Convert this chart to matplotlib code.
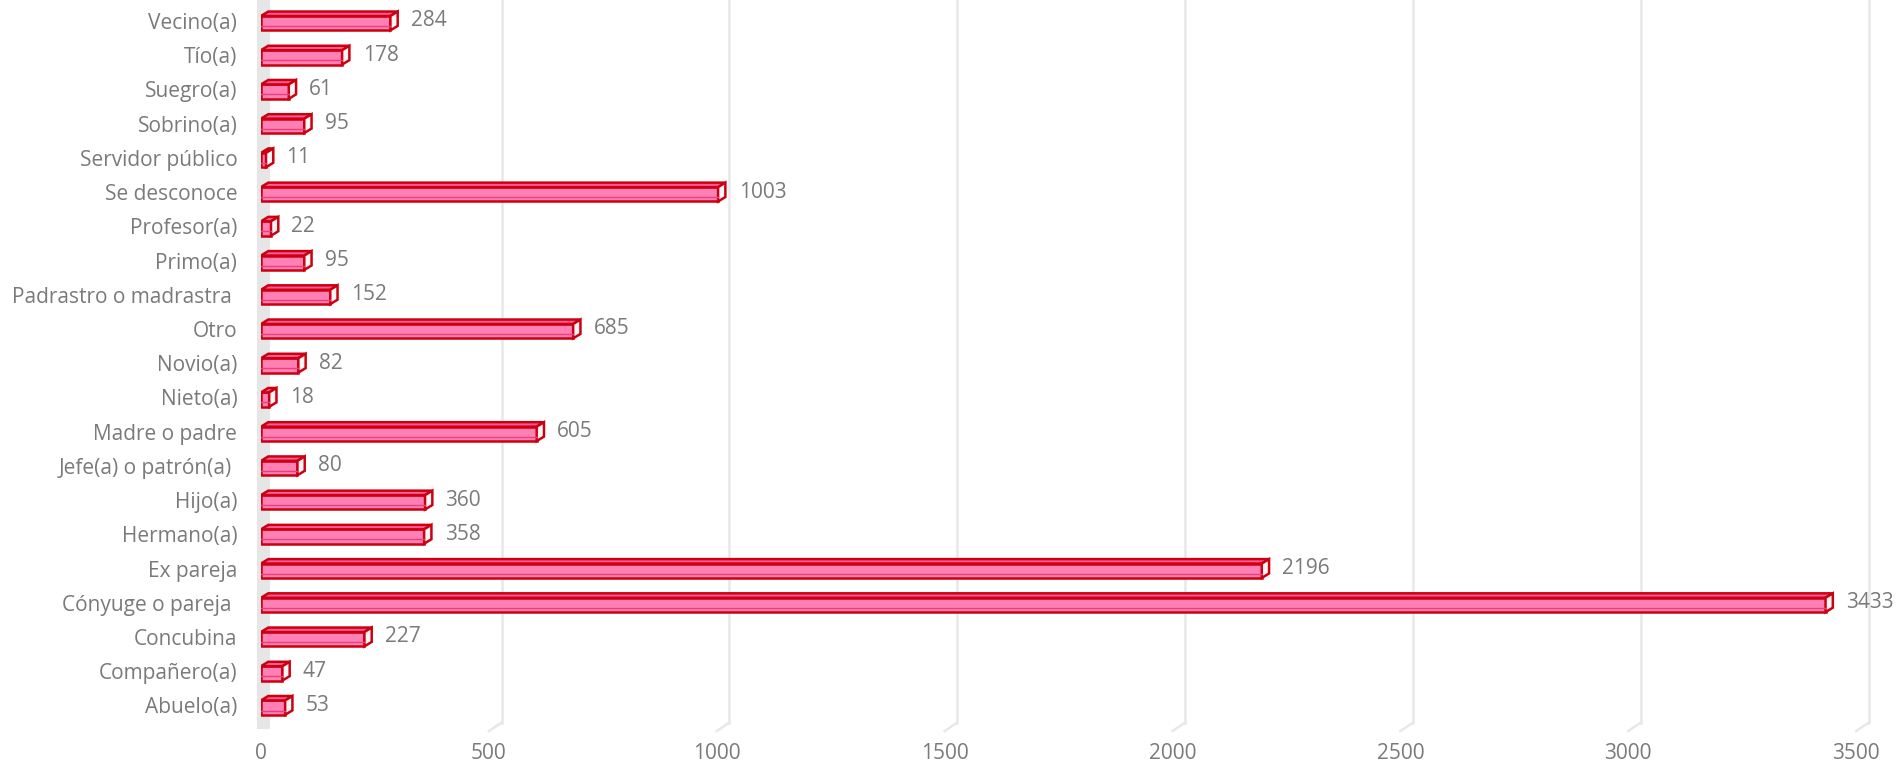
import matplotlib.pyplot as plt
from matplotlib.patches import Polygon, Rectangle

categories = ["Abuelo(a)", "Compañero(a)", "Concubina", "Cónyuge o pareja ", "Ex pareja",
              "Hermano(a)", "Hijo(a)", "Jefe(a) o patrón(a) ", "Madre o padre", "Nieto(a)",
              "Novio(a)", "Otro", "Padrastro o madrastra ", "Primo(a)", "Profesor(a)",
              "Se desconoce", "Servidor público", "Sobrino(a)", "Suegro(a)", "Tío(a)", "Vecino(a)"]
values = [53, 47, 227, 3433, 2196, 358, 360, 80, 605, 18, 82, 685, 152, 95, 22,
          1003, 11, 95, 61, 178, 284]
x_ticks = [0, 500, 1000, 1500, 2000, 2500, 3000, 3500]

plt.rcParams['font.family'] = ['Open Sans', 'DejaVu Sans']
GREY = "#7a7a7a"
FRONT = "#ff80b4"
TOP = "#ff5c99"
SIDE = "#f6f6f6"
EDGE = "#cc0010"

fig = plt.figure(figsize=(18.98, 7.67), dpi=100)
ax = fig.add_axes([0.1375, 0.058, 0.8404, 0.937])

h = 0.42   # front face height
dx = 16    # depth offset in data x
dy = 0.13  # depth offset in data y

for i, v in enumerate(values):
    y0 = i - h / 2 - dy / 2
    y1 = y0 + h
    ax.add_patch(Rectangle((0, y0), v, h, facecolor=FRONT, edgecolor=EDGE, lw=1.8, zorder=3))
    ax.add_patch(Polygon([(0, y1), (v, y1), (v + dx, y1 + dy), (dx, y1 + dy)], closed=True,
                         facecolor=TOP, edgecolor=EDGE, lw=1.8, zorder=3))
    ax.add_patch(Polygon([(v, y0), (v + dx, y0 + dy), (v + dx, y1 + dy), (v, y1)], closed=True,
                         facecolor=SIDE, edgecolor=EDGE, lw=1.8, zorder=3))
    ax.plot([0, v], [y0 + h * 0.3, y0 + h * 0.3], color="#e8407a", lw=1.0, zorder=4)
    ax.annotate(str(v), xy=(v + dx, i), xytext=(9.5, 0), textcoords="offset points",
                ha="left", va="center", fontsize=15, color=GREY)

ax.set_xlim(0, 3500)
ax.set_ylim(-0.5, len(categories) - 0.5)
ax.set_yticks(range(len(categories)))
ax.set_yticklabels(categories, fontsize=15, color=GREY)
ax.set_xticks(x_ticks)
ax.set_xticklabels([str(t) for t in x_ticks], fontsize=15, color=GREY)
ax.tick_params(length=0)
ax.tick_params(axis="y", pad=17)
ax.tick_params(axis="x", pad=15)

# back-wall gridlines with small slanted feet
shift = 28
for t in x_ticks[1:]:
    ax.plot([t + shift, t + shift], [-0.5, len(categories)], color="#e8e8e8", lw=1.8,
            zorder=1, clip_on=False)
    ax.plot([t + shift, t], [-0.5, -0.75], color="#e8e8e8", lw=1.8, zorder=1, clip_on=False)
ax.fill_betweenx([-0.7, len(categories)], [-8, -8], [shift - 8, shift - 8],
                 color="#e6e6e6", lw=0, zorder=1, clip_on=False)

for s in ax.spines.values():
    s.set_visible(False)

fig.savefig("out.png", dpi=100)
